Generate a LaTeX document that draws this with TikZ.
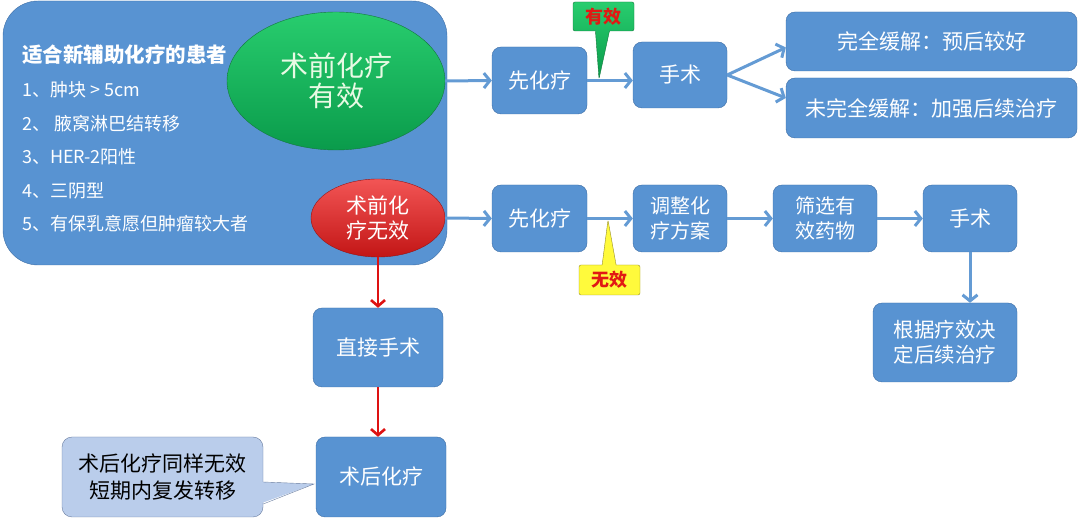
\documentclass[tikz,border=0pt]{standalone}
\usepackage{fontspec}
\setmainfont{Noto Sans CJK SC}
\usetikzlibrary{arrows.meta,shapes.geometric,shapes.callouts}

\definecolor{boxblue}{RGB}{88,147,210}
\definecolor{boxline}{RGB}{62,110,165}
\definecolor{arrblue}{RGB}{100,155,212}
\definecolor{arrred}{RGB}{222,18,18}
\definecolor{effhi}{RGB}{40,205,110}
\definecolor{efflo}{RGB}{10,155,75}
\definecolor{effline}{RGB}{20,120,60}
\definecolor{effink}{RGB}{232,250,228}
\definecolor{badhi}{RGB}{242,85,85}
\definecolor{badlo}{RGB}{195,22,22}
\definecolor{badline}{RGB}{150,20,20}
\definecolor{tagred}{RGB}{225,25,20}
\definecolor{tagyellow}{RGB}{255,250,60}
\definecolor{tagyline}{RGB}{150,140,40}
\definecolor{notefill}{RGB}{186,205,235}
\definecolor{noteline}{RGB}{105,125,160}

\tikzset{
  box/.style={draw=boxline, fill=boxblue, rounded corners=9pt, text=white,
    inner sep=0pt, align=center, font=\fontsize{21}{25}\selectfont},
  arr/.style={arrblue, line width=3pt, -{Straight Barb[length=6pt,width=15pt]}},
  redarr/.style={arrred, line width=2.6pt, -{Straight Barb[length=6pt,width=14pt]}},
  tag/.style={rectangle callout, rounded corners=2pt, inner sep=0pt,
    callout pointer width=14pt, text=tagred,
    font=\bfseries\fontsize{18}{18}\selectfont},
  item/.style={anchor=west, text=white, inner sep=0pt, font=\fontsize{18}{18}\selectfont}
}

\begin{document}
\begin{tikzpicture}[x=1pt,y=-1pt]
\useasboundingbox (0,0) rectangle (1080,518);
% left block: patients
\node[draw=boxline, fill=boxblue, rounded corners=35pt, minimum width=444pt, minimum height=264pt] (cand) at (225,133) {};
\node[item, font=\bfseries\fontsize{20.5}{20.5}\selectfont] (title) at (22,55) {适合新辅助化疗的患者};
\foreach \n/\texto in {1/{1、肿块 > 5cm},2/{2、 腋窝淋巴结转移},3/{3、HER-2阳性},4/{4、三阴型},5/{5、有保乳意愿但肿瘤较大者}}
\node[item] (item\n) at (22,{90+33.5*(\n-1)}) {\texto};
\node[ellipse, draw=effline, top color=effhi, bottom color=efflo, minimum width=218pt, minimum height=138pt,
  inner sep=0pt, align=center, text=effink, font=\fontsize{28}{30}\selectfont] (eff) at (336,81) {术前化疗\\有效};
\node[ellipse, draw=badline, top color=badhi, bottom color=badlo, minimum width=134pt, minimum height=78pt,
  inner sep=0pt, align=center, text=white, font=\fontsize{21}{25}\selectfont] (bad) at (378,218) {术前化\\疗无效};

% upper row
\node[box, minimum width=95pt, minimum height=67pt] (pre1) at (539.5,80.5) {先化疗};
\node[box, minimum width=94pt, minimum height=66pt] (op1) at (680,75) {手术};
\node[box, minimum width=291pt, minimum height=59pt] (cr1) at (931.5,41.5) {完全缓解：预后较好};
\node[box, minimum width=291pt, minimum height=60pt] (cr2) at (931.5,108) {未完全缓解：加强后续治疗};

% lower row
\node[box, minimum width=95pt, minimum height=67pt] (pre2) at (539.5,218.5) {先化疗};
\node[box, minimum width=94pt, minimum height=67pt, font=\fontsize{20}{25}\selectfont] (adj) at (680,218.5) {调整化\\疗方案};
\node[box, minimum width=104pt, minimum height=67pt, font=\fontsize{20}{25}\selectfont] (sel) at (825,218.5) {筛选有\\效药物};
\node[box, minimum width=94pt, minimum height=67pt] (op2) at (970,218.5) {手术};
\node[box, minimum width=144pt, minimum height=79pt, font=\fontsize{20.5}{25}\selectfont] (dec) at (945,342.5) {根据疗效决\\定后续治疗};

% direct surgery branch
\node[box, minimum width=130pt, minimum height=79pt] (direct) at (378,347.5) {直接手术};
\node[box, minimum width=130pt, minimum height=80pt] (post) at (381,477) {术后化疗};
\node[draw=noteline, fill=notefill, rounded corners=10pt, minimum width=201pt, minimum height=80pt,
  inner sep=0pt, align=center, font=\fontsize{21}{27}\selectfont] (note) at (162.5,477) {术后化疗同样无效\\短期内复发转移};
\coordinate (notetip) at (314,484);
\fill[notefill] ([xshift=-4pt,yshift=-5pt]note.east) -- (notetip) -- ([xshift=-4pt,yshift=-27pt]note.east) -- cycle;
\draw[noteline] ([yshift=-5pt]note.east) -- (notetip) -- ([yshift=-27pt]note.east);

% connectors
\draw[arr] (eff.east) -- (pre1.west);
\draw[arr] (pre1.east) -- (op1.west |- pre1.east);
\draw[arr] (op1.east) -- ([yshift=-6pt]cr1.west);
\draw[arr] (op1.east) -- ([yshift=10pt]cr2.west);
\draw[arr] (bad.east) -- (pre2.west);
\draw[arr] (pre2.east) -- (adj.west);
\draw[arr] (adj.east) -- (sel.west);
\draw[arr] (sel.east) -- (op2.west);
\draw[arr] (op2.south) -- (op2.south |- dec.north);
\draw[redarr] (bad.south) -- (direct.north);
\draw[redarr] (direct.south) -- (direct.south |- post.north);

% tags on the arrows
\coordinate (tipA) at (599,79);
\coordinate (tipB) at (608,220);
\node[tag, draw=effline, top color=effhi, bottom color=efflo, minimum width=61pt, minimum height=29pt,
  callout absolute pointer={(tipA)}] (okA) at (603.5,16.5) {有效};
\node[tag, draw=tagyline, fill=tagyellow, minimum width=61pt, minimum height=30pt,
  callout absolute pointer={(tipB)}] (noB) at (609.5,280) {无效};
\end{tikzpicture}
\end{document}
